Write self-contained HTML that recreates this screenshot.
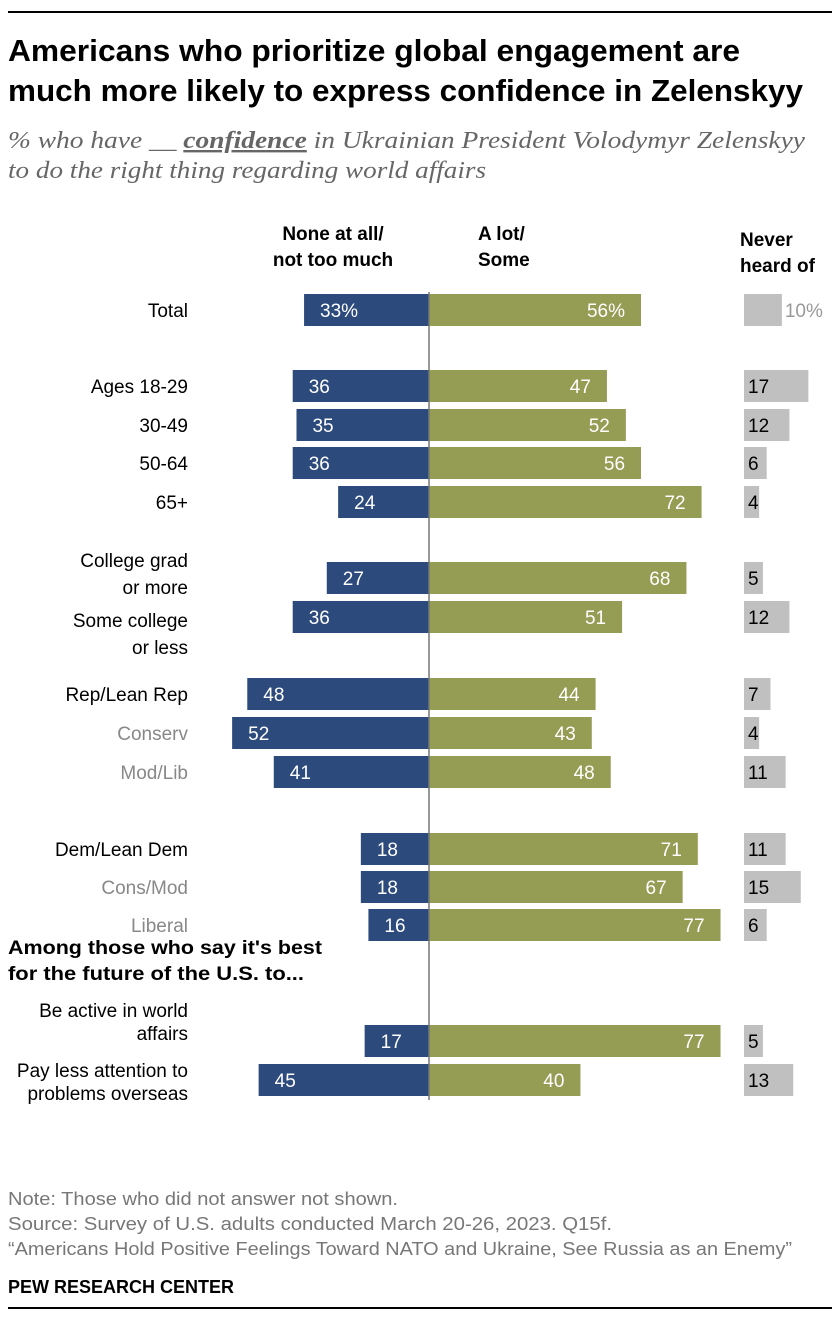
<!DOCTYPE html>
<html><head><meta charset="utf-8"><style>
body{margin:0;background:#fff;}
svg{display:block;font-family:"Liberation Sans Narrow","Liberation Sans",sans-serif;}
</style></head><body>
<svg id="chart" width="840" height="1320" viewBox="0 0 840 1320">
<rect x="8" y="11" width="824" height="2" fill="#000"/>
<text x="8" y="61" font-size="31" font-weight="bold" fill="#000" textLength="732" lengthAdjust="spacingAndGlyphs">Americans who prioritize global engagement are</text>
<text x="8" y="101" font-size="31" font-weight="bold" fill="#000" textLength="795" lengthAdjust="spacingAndGlyphs">much more likely to express confidence in Zelenskyy</text>
<text x="8" y="148" font-size="24" font-style="italic" fill="#666" font-family="Liberation Serif, serif" textLength="797" lengthAdjust="spacingAndGlyphs">% who have __ <tspan font-weight="bold" text-decoration="underline">confidence</tspan> in Ukrainian President Volodymyr Zelenskyy</text>
<text x="8" y="178" font-size="24" font-style="italic" fill="#666" font-family="Liberation Serif, serif" textLength="478" lengthAdjust="spacingAndGlyphs">to do the right thing regarding world affairs</text>
<g font-size="19" font-weight="bold" fill="#000">
<text x="333" y="240" text-anchor="middle">None at all/</text>
<text x="333" y="266" text-anchor="middle">not too much</text>
<text x="478" y="240">A lot/</text>
<text x="478" y="266">Some</text>
<text x="740" y="246">Never</text>
<text x="740" y="272">heard of</text>
</g>
<text x="8" y="954" font-size="19" font-weight="bold" fill="#000" textLength="314" lengthAdjust="spacingAndGlyphs">Among those who say it's best</text>
<text x="8" y="980" font-size="19" font-weight="bold" fill="#000" textLength="296" lengthAdjust="spacingAndGlyphs">for the future of the U.S. to...</text>
<g id="bars"></g>
<line x1="429" y1="292" x2="429" y2="1100" stroke="#777" stroke-width="1.5"/>
<g font-size="18" fill="#777">
<text x="8" y="1205" textLength="390" lengthAdjust="spacingAndGlyphs">Note: Those who did not answer not shown.</text>
<text x="8" y="1230" textLength="604" lengthAdjust="spacingAndGlyphs">Source: Survey of U.S. adults conducted March 20-26, 2023. Q15f.</text>
<text x="8" y="1255" textLength="784" lengthAdjust="spacingAndGlyphs">“Americans Hold Positive Feelings Toward NATO and Ukraine, See Russia as an Enemy”</text>
</g>
<text x="8" y="1293" font-size="18" font-weight="bold" fill="#000">PEW RESEARCH CENTER</text>
<rect x="8" y="1307" width="824" height="2" fill="#000"/>
</svg>
<script>
const categories=[["Total"],["Ages 18-29"],["30-49"],["50-64"],["65+"],["College grad","or more"],["Some college","or less"],["Rep/Lean Rep"],["Conserv"],["Mod/Lib"],["Dem/Lean Dem"],["Cons/Mod"],["Liberal"],["Be active in world","affairs"],["Pay less attention to","problems overseas"]];
const noneValues=[33,36,35,36,24,27,36,48,52,41,18,18,16,17,45];
const someValues=[56,47,52,56,72,68,51,44,43,48,71,67,77,77,40];
const neverValues=[10,17,12,6,4,5,12,7,4,11,11,15,6,5,13];
const subgroup=[false,false,false,false,false,false,false,false,true,true,false,true,true,false,false];
const rowCenters=[310,386,425,463,502,578,617,694,733,772,849,887,925,1041,1080];
const ns="http://www.w3.org/2000/svg";
const g=document.getElementById("bars");
const cx=429,scale=3.786,nx=744,bh=32;
const xL=v=>cx-v*scale, xR=v=>cx+v*scale, wN=v=>v*scale;
function mk(tag,attrs){const e=document.createElementNS(ns,tag);for(const k in attrs)e.setAttribute(k,attrs[k]);g.appendChild(e);return e;}
categories.forEach((c,i)=>{
  const y=rowCenters[i];const pct=i===0?"%":"";
  const lines=c.length;
  const lh=i>=13?23:27;
  let ly0=lines===1?y+7:(i===5?y-11:(i===6?y+10:(i===13?y-24:y-3)));
  c.forEach((t,j)=>{const e=mk("text",{x:188,y:ly0+j*lh,"text-anchor":"end","font-size":19,fill:subgroup[i]?"#888":"#000"});e.textContent=t;
  
  });
  const b1=mk("rect",{x:xL(noneValues[i]),y:y-bh/2,width:cx-xL(noneValues[i]),height:bh,fill:"#2c4a7c"});
  
  
  const t1=mk("text",{x:xL(noneValues[i])+16,y:y+7,"font-size":19,fill:"#fff"});t1.textContent=noneValues[i]+pct;
  
  
  const b2=mk("rect",{x:cx,y:y-bh/2,width:xR(someValues[i])-cx,height:bh,fill:"#959c54"});
  
  
  const t2=mk("text",{x:xR(someValues[i])-16,y:y+7,"font-size":19,fill:"#fff","text-anchor":"end"});t2.textContent=someValues[i]+pct;
  
  
  const b3=mk("rect",{x:nx,y:y-bh/2,width:wN(neverValues[i]),height:bh,fill:"#c0c0c0"});
  
  
  const t3=mk("text",{x:i===0?nx+wN(neverValues[i])+3:nx+4,y:y+7,"font-size":19,fill:i===0?"#999":"#000"});t3.textContent=neverValues[i]+pct;
  
  
});
</script>
</body></html>
